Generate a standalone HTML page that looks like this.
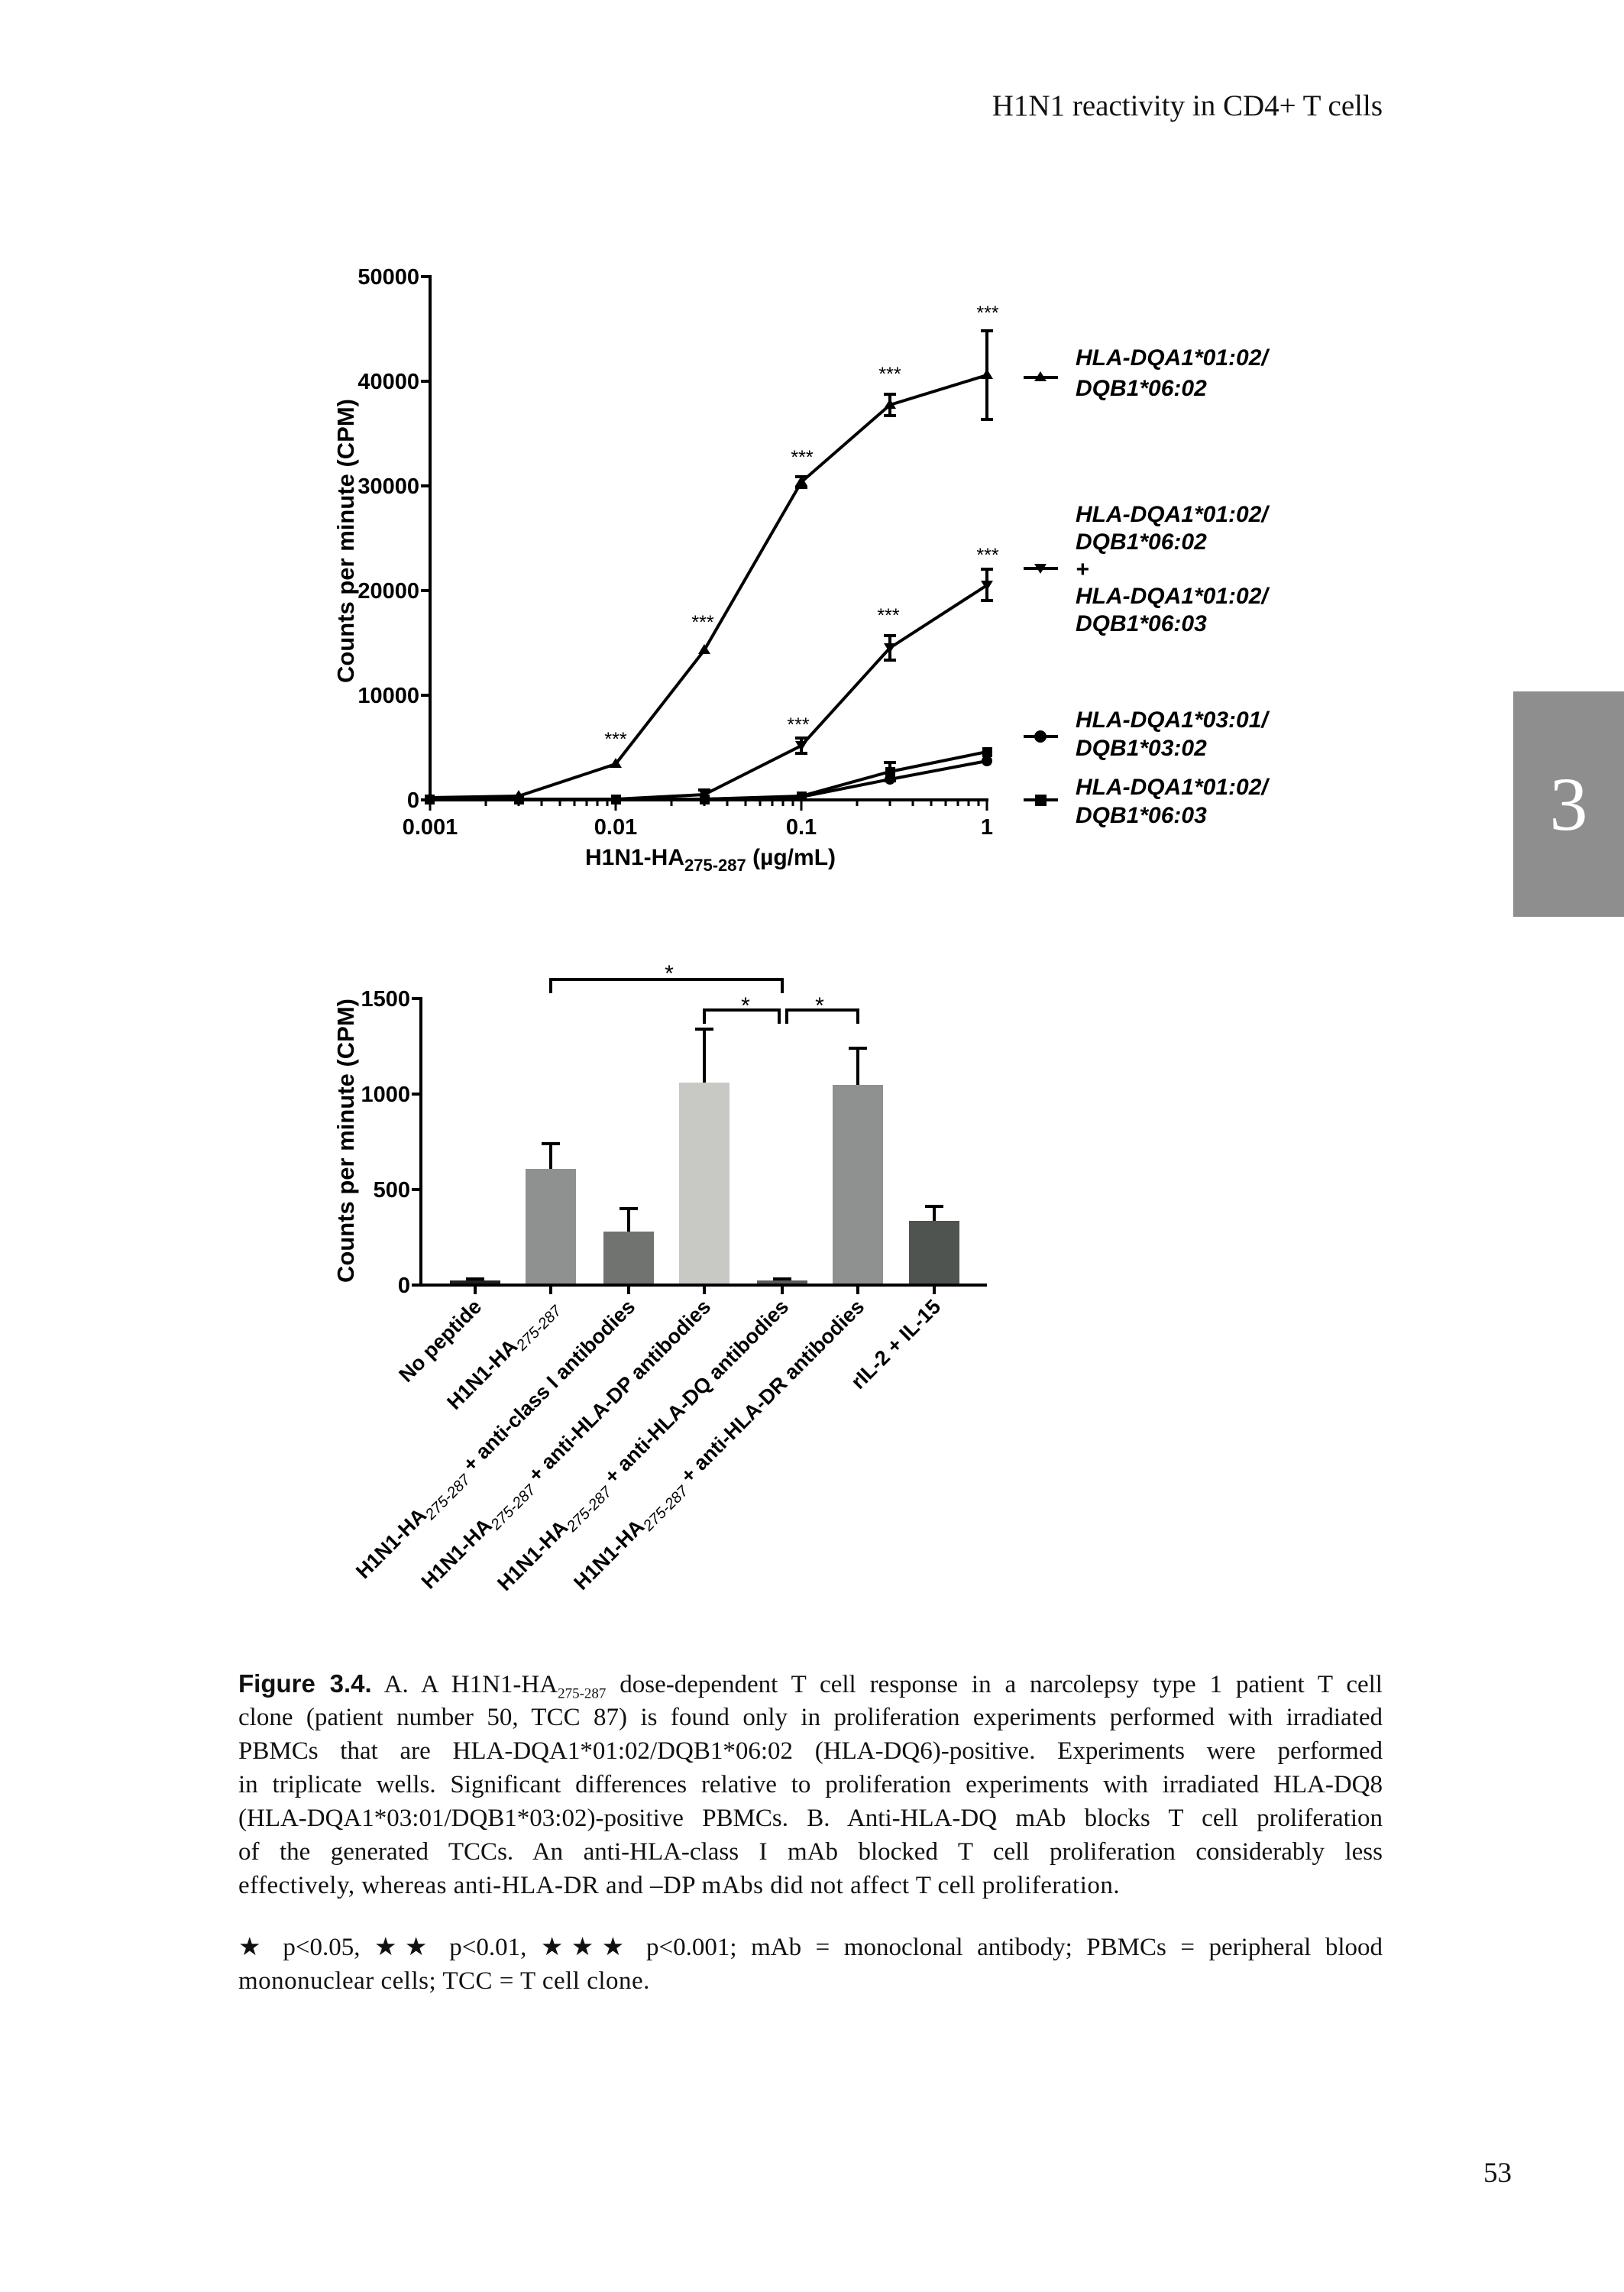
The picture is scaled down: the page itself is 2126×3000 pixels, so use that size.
<!DOCTYPE html>
<html><head><meta charset="utf-8"><style>
html,body{margin:0;padding:0;background:#fff;}
body{width:2126px;height:3000px;position:relative;overflow:hidden;font-family:"Liberation Serif",serif;color:#111;}
.hdr{position:absolute;right:316px;top:116px;font-size:39px;}
.tab{position:absolute;left:1981px;top:905px;width:145px;height:295px;background:#8e8e8e;color:#fff;font-size:100px;text-align:center;line-height:295px;}
.cap{position:absolute;left:312px;width:1498px;font-size:33px;line-height:44px;}
.cap div{height:44px;text-align:justify;text-align-last:justify;white-space:nowrap;}
.cap div.l{text-align-last:left;letter-spacing:0.5px;}
.pn{position:absolute;left:1942px;top:2823px;font-size:37px;}
svg{position:absolute;left:0;top:0;}
</style></head><body>
<div class="hdr">H1N1 reactivity in CD4+ T cells</div>
<div class="tab">3</div>

<svg width="2126" height="3000" font-family="Liberation Sans, Arial, sans-serif" font-weight="bold">
<!-- TOP CHART -->
<g stroke="#000" stroke-width="4" fill="none">
<line x1="563" y1="360" x2="563" y2="1049"/>
<line x1="561" y1="1047" x2="1294" y2="1047"/>
<line x1="551" y1="362" x2="563" y2="362"/>
<line x1="551" y1="499" x2="563" y2="499"/>
<line x1="551" y1="636" x2="563" y2="636"/>
<line x1="551" y1="773" x2="563" y2="773"/>
<line x1="551" y1="910" x2="563" y2="910"/>
<line x1="551" y1="1047" x2="563" y2="1047"/>
</g>
<g stroke="#000" stroke-width="3">
<line x1="563" y1="1047" x2="563" y2="1061"/><line x1="806" y1="1047" x2="806" y2="1061"/><line x1="1049" y1="1047" x2="1049" y2="1061"/><line x1="1292" y1="1047" x2="1292" y2="1061"/>
<line x1="636" y1="1047" x2="636" y2="1055"/><line x1="679" y1="1047" x2="679" y2="1055"/><line x1="709" y1="1047" x2="709" y2="1055"/><line x1="733" y1="1047" x2="733" y2="1055"/><line x1="752" y1="1047" x2="752" y2="1055"/><line x1="768" y1="1047" x2="768" y2="1055"/><line x1="782" y1="1047" x2="782" y2="1055"/><line x1="795" y1="1047" x2="795" y2="1055"/>
<line x1="879" y1="1047" x2="879" y2="1055"/><line x1="922" y1="1047" x2="922" y2="1055"/><line x1="952" y1="1047" x2="952" y2="1055"/><line x1="976" y1="1047" x2="976" y2="1055"/><line x1="995" y1="1047" x2="995" y2="1055"/><line x1="1011" y1="1047" x2="1011" y2="1055"/><line x1="1025" y1="1047" x2="1025" y2="1055"/><line x1="1038" y1="1047" x2="1038" y2="1055"/>
<line x1="1122" y1="1047" x2="1122" y2="1055"/><line x1="1165" y1="1047" x2="1165" y2="1055"/><line x1="1195" y1="1047" x2="1195" y2="1055"/><line x1="1219" y1="1047" x2="1219" y2="1055"/><line x1="1238" y1="1047" x2="1238" y2="1055"/><line x1="1254" y1="1047" x2="1254" y2="1055"/><line x1="1268" y1="1047" x2="1268" y2="1055"/><line x1="1281" y1="1047" x2="1281" y2="1055"/>
</g>
<g font-size="29" text-anchor="end">
<text x="549" y="372">50000</text><text x="549" y="509">40000</text><text x="549" y="646">30000</text><text x="549" y="783">20000</text><text x="549" y="920">10000</text><text x="549" y="1057">0</text>
</g>
<g font-size="29" text-anchor="middle">
<text x="563" y="1092">0.001</text><text x="806" y="1092">0.01</text><text x="1049" y="1092">0.1</text><text x="1292" y="1092">1</text>
<text x="930" y="1132" font-size="30">H1N1-HA<tspan font-size="22" dy="8">275-287</tspan><tspan dy="-8">  (µg/mL)</tspan></text>
</g>
<text transform="translate(463,708) rotate(-90)" font-size="31" text-anchor="middle">Counts per minute (CPM)</text>
<g stroke="#000" stroke-width="4" fill="none">
<polyline points="563,1044 679,1042 806,1000 922,851 1049,631 1165,530 1292,491"/>
<polyline points="563,1046 679,1046 806,1046 922,1040 1049,976 1165,848 1292,766"/>
<polyline points="563,1046 679,1046 806,1046 922,1046 1049,1043 1165,1020 1292,996"/>
<polyline points="563,1046 679,1046 806,1046 922,1046 1049,1042 1165,1010 1292,984"/>
<path d="M1049,624V638M1041,624H1057M1041,638H1057"/>
<path d="M1165,516V544M1157,516H1173M1157,544H1173"/>
<path d="M1292,433V549M1284,433H1300M1284,549H1300"/>
<path d="M1049,966V986M1041,966H1057M1041,986H1057"/>
<path d="M1165,832V864M1157,832H1173M1157,864H1173"/>
<path d="M1292,745V786M1284,745H1300M1284,786H1300"/>
<path d="M1165,998V1022M1157,998H1173M1157,1022H1173"/>
<path d="M922,1034V1048M914,1034H930"/>
</g>
<g fill="#000">
<path d="M563,1036l8,13h-16z M679,1034l8,13h-16z M806,992l8,13h-16z M922,843l8,13h-16z M1049,623l8,13h-16z M1165,522l8,13h-16z M1292,483l8,13h-16z"/>
<path d="M922,1046l8,-13h-16z M1049,983l8,-13h-16z M1165,855l8,-13h-16z M1292,773l8,-13h-16z"/>
<circle cx="1165" cy="1020" r="7"/><circle cx="1292" cy="996" r="7"/><circle cx="1049" cy="1043" r="6"/>
<rect x="556" y="1040" width="13" height="13"/><rect x="673" y="1040" width="13" height="13"/><rect x="800" y="1040" width="13" height="13"/><rect x="916" y="1040" width="13" height="13"/><rect x="1043" y="1036" width="13" height="13"/><rect x="1159" y="1004" width="13" height="13"/><rect x="1286" y="978" width="13" height="13"/>
</g>
<g font-size="25" font-weight="normal" text-anchor="middle">
<text x="806" y="976">***</text><text x="920" y="823">***</text><text x="1050" y="607">***</text><text x="1165" y="498">***</text><text x="1293" y="418">***</text><text x="1163" y="814">***</text><text x="1293" y="735">***</text><text x="1045" y="957">***</text>
</g>
<g stroke="#000" stroke-width="4">
<line x1="1340" y1="494" x2="1385" y2="494"/><line x1="1340" y1="744" x2="1385" y2="744"/><line x1="1340" y1="964" x2="1385" y2="964"/><line x1="1340" y1="1047" x2="1385" y2="1047"/>
</g>
<g fill="#000">
<path d="M1362,486l8,13h-16z"/><path d="M1362,751l8,-13h-16z"/><circle cx="1362" cy="964" r="8"/><rect x="1355" y="1040" width="15" height="15"/>
</g>
<g font-size="30" font-style="italic">
<text x="1408" y="478">HLA-DQA1*01:02/</text><text x="1408" y="518">DQB1*06:02</text>
<text x="1408" y="683">HLA-DQA1*01:02/</text><text x="1408" y="719">DQB1*06:02</text><text x="1408" y="755">+</text><text x="1408" y="790">HLA-DQA1*01:02/</text><text x="1408" y="826">DQB1*06:03</text>
<text x="1408" y="952">HLA-DQA1*03:01/</text><text x="1408" y="989">DQB1*03:02</text>
<text x="1408" y="1040">HLA-DQA1*01:02/</text><text x="1408" y="1077">DQB1*06:03</text>
</g>

<!-- BOTTOM CHART -->
<g>
<rect x="589" y="1676" width="66" height="6" fill="#222"/>
<rect x="688" y="1530" width="66" height="152" fill="#8f9190"/>
<rect x="790" y="1612" width="66" height="70" fill="#717370"/>
<rect x="889" y="1417" width="66" height="265" fill="#c8c9c5"/>
<rect x="991" y="1676" width="66" height="6" fill="#5a5e5a"/>
<rect x="1090" y="1420" width="66" height="262" fill="#8f9190"/>
<rect x="1190" y="1598" width="66" height="84" fill="#4f5450"/>
</g>
<g stroke="#000" stroke-width="4" fill="none">
<path d="M622,1676V1674M610,1674H634"/>
<path d="M721,1530V1497M709,1497H733"/>
<path d="M823,1612V1582M811,1582H835"/>
<path d="M922,1417V1347M910,1347H934"/>
<path d="M1024,1676V1674M1012,1674H1036"/>
<path d="M1123,1420V1372M1111,1372H1135"/>
<path d="M1223,1598V1579M1211,1579H1235"/>
<line x1="551" y1="1305" x2="551" y2="1684"/>
<line x1="549" y1="1682" x2="1292" y2="1682"/>
<path d="M539,1307H551M539,1432H551M539,1557H551M539,1682H551"/>
<path d="M622,1682V1694M721,1682V1694M823,1682V1694M922,1682V1694M1024,1682V1694M1123,1682V1694M1223,1682V1694"/>
<path d="M721,1300V1282H1024V1300"/>
<path d="M922,1340V1322H1020V1340"/>
<path d="M1030,1340V1322H1123V1340"/>
</g>
<g font-size="29" text-anchor="end">
<text x="537" y="1317">1500</text><text x="537" y="1442">1000</text><text x="537" y="1567">500</text><text x="537" y="1692">0</text>
</g>
<g font-size="30" font-weight="normal" text-anchor="middle">
<text x="876" y="1284">*</text><text x="976" y="1326">*</text><text x="1073" y="1326">*</text>
</g>
<text transform="translate(463,1493) rotate(-90)" font-size="31" text-anchor="middle">Counts per minute (CPM)</text>
<g font-size="27" text-anchor="end">
<text transform="translate(632,1712) rotate(-45)">No peptide</text>
<text transform="translate(731,1712) rotate(-45)">H1N1-HA<tspan font-size="20" font-weight="normal" font-style="italic" dy="7">275-287</tspan></text>
<text transform="translate(833,1712) rotate(-45)">H1N1-HA<tspan font-size="20" font-weight="normal" font-style="italic" dy="7">275-287</tspan><tspan dy="-7"> + anti-class I antibodies</tspan></text>
<text transform="translate(932,1712) rotate(-45)">H1N1-HA<tspan font-size="20" font-weight="normal" font-style="italic" dy="7">275-287</tspan><tspan dy="-7"> + anti-HLA-DP antibodies</tspan></text>
<text transform="translate(1034,1712) rotate(-45)">H1N1-HA<tspan font-size="20" font-weight="normal" font-style="italic" dy="7">275-287</tspan><tspan dy="-7"> + anti-HLA-DQ antibodies</tspan></text>
<text transform="translate(1133,1712) rotate(-45)">H1N1-HA<tspan font-size="20" font-weight="normal" font-style="italic" dy="7">275-287</tspan><tspan dy="-7"> + anti-HLA-DR antibodies</tspan></text>
<text transform="translate(1233,1712) rotate(-45)">rIL-2 + IL-15</text>
</g>
</svg>

<div class="cap" style="top:2182px;">
<div><b style="font-family:'Liberation Sans',sans-serif;">Figure 3.4.</b> A. A H1N1-HA<sub style="font-size:19px;">275-287</sub> dose-dependent T cell response in a narcolepsy type 1 patient T cell</div>
<div>clone (patient number 50, TCC 87) is found only in proliferation experiments performed with irradiated</div>
<div>PBMCs that are HLA-DQA1*01:02/DQB1*06:02 (HLA-DQ6)-positive. Experiments were performed</div>
<div>in triplicate wells. Significant differences relative to proliferation experiments with irradiated HLA-DQ8</div>
<div>(HLA-DQA1*03:01/DQB1*03:02)-positive PBMCs. B. Anti-HLA-DQ mAb blocks T cell proliferation</div>
<div>of the generated TCCs. An anti-HLA-class I mAb blocked T cell proliferation considerably less</div>
<div class="l">effectively, whereas anti-HLA-DR and –DP mAbs did not affect T cell proliferation.</div>
</div>
<div class="cap" style="top:2527px;">
<div>★ p&lt;0.05, ★★ p&lt;0.01, ★★★ p&lt;0.001; mAb = monoclonal antibody; PBMCs = peripheral blood</div>
<div class="l">mononuclear cells; TCC = T cell clone.</div>
</div>
<div class="pn">53</div>
</body></html>
